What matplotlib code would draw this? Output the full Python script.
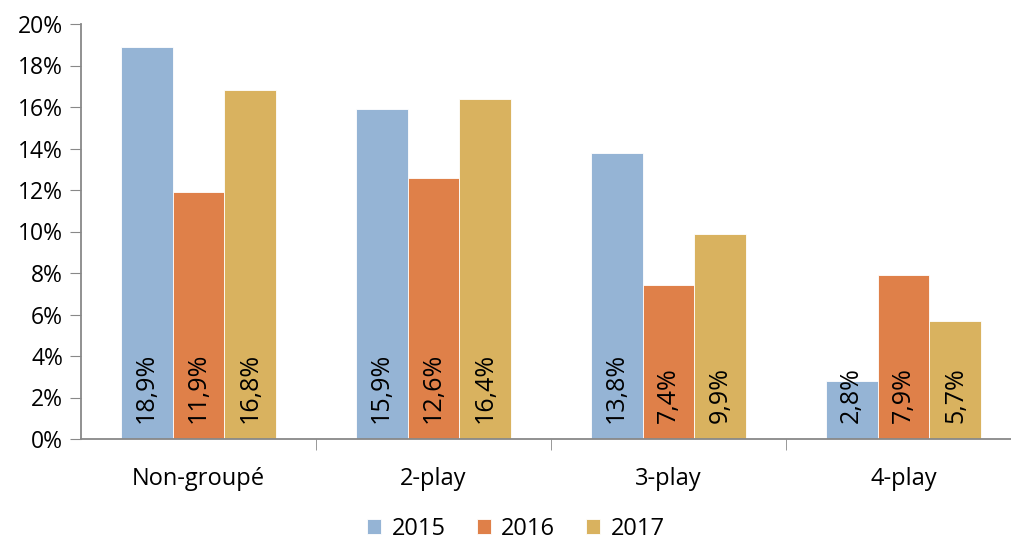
import numpy as np
import matplotlib.pyplot as plt
from matplotlib import rcParams

rcParams.update({
    "font.family": ["Open Sans", "DejaVu Sans"],
    "font.size": 16,
})

categories = ["Non-groupé", "2-play", "3-play", "4-play"]
years = ["2015", "2016", "2017"]
v2015 = [18.9, 15.9, 13.8, 2.8]
v2016 = [11.9, 12.6, 7.4, 7.9]
v2017 = [16.8, 16.4, 9.9, 5.7]
series = [v2015, v2016, v2017]
colors = ["#95B4D5", "#DF8049", "#D9B25F"]

fig = plt.figure(figsize=(10.12, 5.4), dpi=100)
# axes extend slightly past the right edge, like the original crop
ax = fig.add_axes([81 / 1012, 1 - 439 / 540, (1021 - 81) / 1012, 415 / 540])

x = np.arange(len(categories))
w = 0.221
for i, (vals, col) in enumerate(zip(series, colors)):
    pos = x + (i - 1) * w
    ax.bar(pos, vals, width=w, color=col, edgecolor="white", linewidth=0.6,
           label=years[i])
    for p, v in zip(pos, vals):
        ax.text(p, 0.75, f"{v:.1f}%".replace(".", ","), rotation=90,
                ha="center", va="bottom", fontsize=18, color="black")

ax.set_xlim(-0.5, len(categories) - 0.5)
ax.set_ylim(0, 20)
ax.set_yticks(np.arange(0, 21, 2))
ax.set_yticklabels([f"{t}%" for t in range(0, 21, 2)], fontsize=16.5)
ax.set_xticks(x)
ax.set_xticklabels(categories, fontsize=17)
ax.tick_params(axis="x", length=0, pad=20)
ax.set_xticks(np.arange(0.5, len(categories) - 0.5, 1), minor=True)
ax.tick_params(axis="x", which="minor", length=8, color="#888888", direction="out")
ax.tick_params(axis="y", length=8, color="#888888", direction="out", pad=5)

for s in ["top", "right"]:
    ax.spines[s].set_visible(False)
for s in ["left", "bottom"]:
    ax.spines[s].set_color("#888888")
    ax.spines[s].set_linewidth(1.3)

handles, labels = ax.get_legend_handles_labels()
fig.legend(handles, labels, loc="center", bbox_to_anchor=(516 / 1012, 1 - 529 / 540),
           ncol=3, frameon=False, handlelength=0.6, handleheight=0.6,
           columnspacing=1.3, handletextpad=0.45, fontsize=17)

fig.savefig("out.png", dpi=100)
